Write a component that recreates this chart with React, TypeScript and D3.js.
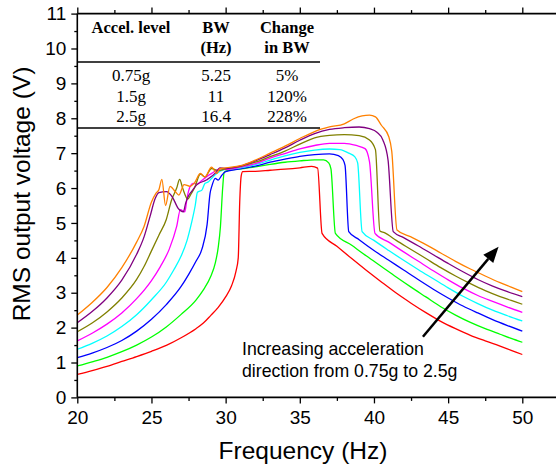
import React, { useEffect, useRef } from 'react';
import * as d3 from 'd3';

// frequency (Hz), RMS voltage (V), one array per acceleration level
const acc075 = [[20,0.66],[21,0.77],[22,0.89],[23,1.03],[24,1.17],[25,1.32],[26,1.49],[27,1.71],[28,1.97],[28.5,2.13],[29,2.35],[29.5,2.58],[30,2.88],[30.4,3.2],[30.7,3.62],[30.85,4.0],[30.95,5.6],[31.05,6.35],[31.15,6.47],[32,6.48],[33,6.51],[34,6.54],[35,6.58],[35.8,6.62],[36.2,6.57],[36.5,4.70],[37.5,4.33],[38.5,3.98],[39.5,3.64],[40.5,3.31],[41.5,2.99],[42.5,2.70],[43.5,2.43],[44.5,2.18],[45.5,1.97],[46.5,1.78],[47.5,1.62],[48.5,1.47],[49.25,1.35],[50,1.23]];
const acc100 = [[20,0.90],[21,1.02],[22,1.15],[23,1.31],[24,1.50],[25,1.73],[26,2.02],[27,2.38],[28,2.79],[28.5,3.08],[29,3.47],[29.3,3.85],[29.5,4.3],[29.65,4.9],[29.8,6.0],[29.9,6.45],[30.1,6.5],[31,6.55],[32,6.61],[33,6.68],[34,6.74],[35,6.78],[36,6.81],[36.6,6.81],[36.95,6.72],[37.1,6.55],[37.4,4.70],[38.5,4.36],[39.5,4.05],[40.5,3.75],[41.5,3.45],[42.5,3.16],[43.5,2.88],[44.5,2.60],[45.5,2.36],[46.5,2.15],[47.5,1.97],[48.5,1.81],[49.25,1.69],[50,1.58]];
const acc125 = [[20,1.14],[21,1.27],[22,1.43],[23,1.63],[24,1.90],[25,2.24],[26,2.66],[27,3.18],[27.5,3.52],[28,3.9],[28.4,4.25],[28.75,4.95],[28.95,5.85],[29.06,6.04],[29.3,6.28],[29.5,6.23],[29.75,6.37],[30,6.47],[31,6.55],[32,6.63],[33,6.74],[34,6.83],[35,6.91],[36,6.96],[37,6.98],[37.6,6.93],[37.9,6.82],[38.05,6.65],[38.3,4.75],[39,4.52],[40,4.21],[41,3.93],[42,3.65],[43,3.37],[44,3.10],[45,2.85],[46,2.62],[47,2.42],[48,2.23],[49,2.06],[50,1.90]];
const acc150 = [[20,1.38],[21,1.55],[22,1.76],[23,2.03],[24,2.37],[25,2.8],[26,3.3],[26.5,3.65],[27,4.05],[27.4,4.5],[27.7,5.0],[27.95,5.5],[28.1,5.88],[28.4,5.94],[28.6,6.13],[28.85,6.18],[29.06,6.28],[29.4,6.42],[29.85,6.52],[31,6.58],[32,6.67],[33,6.8],[34,6.92],[35,7.02],[36,7.09],[37,7.12],[37.7,7.1],[38.3,7.0],[38.7,6.9],[38.9,6.72],[39.2,4.75],[40,4.50],[41,4.21],[42,3.93],[43,3.66],[44,3.40],[45,3.14],[46,2.90],[47,2.69],[48,2.50],[49,2.34],[50,2.19]];
const acc175 = [[20,1.62],[21,1.84],[22,2.1],[23,2.42],[24,2.83],[25,3.35],[25.6,3.75],[26.2,4.25],[26.7,4.9],[26.95,5.38],[27.25,5.32],[27.4,5.72],[27.6,6.04],[27.8,6.13],[28.1,6.12],[28.35,6.2],[28.7,6.32],[29.06,6.42],[29.6,6.55],[30,6.53],[31,6.6],[32,6.7],[33,6.86],[34,6.99],[35,7.12],[36,7.22],[37,7.28],[38,7.28],[38.8,7.22],[39.4,7.13],[39.7,6.75],[40.07,4.70],[41,4.45],[42,4.17],[43,3.90],[44,3.63],[45,3.37],[46,3.13],[47,2.92],[48,2.75],[49,2.59],[50,2.44]];
const acc200 = [[20,1.88],[21,2.13],[22,2.45],[23,2.85],[24,3.38],[24.5,3.75],[25,4.2],[25.5,4.65],[26,5.1],[26.35,5.65],[26.7,6.0],[26.9,6.25],[27.1,6.0],[27.45,5.68],[27.65,5.82],[27.9,6.0],[28.3,6.4],[28.6,6.32],[29.05,6.56],[29.5,6.5],[30,6.55],[31,6.62],[32,6.74],[33,6.9],[34,7.06],[35,7.26],[36,7.44],[37,7.51],[38,7.53],[39,7.5],[39.7,7.38],[40.1,7.1],[40.4,4.77],[40.7,4.72],[41.5,4.50],[42.5,4.24],[43.5,3.98],[44.5,3.72],[45.5,3.48],[46.5,3.26],[47.5,3.06],[48.5,2.89],[49.25,2.78],[50,2.67]];
const acc225 = [[20,2.14],[21,2.46],[22,2.85],[23,3.36],[24,4.1],[24.5,4.6],[24.9,5.18],[25.25,5.7],[25.5,5.87],[26,5.9],[26.4,5.75],[26.8,5.42],[27.15,5.32],[27.3,5.56],[27.5,5.78],[27.7,5.9],[28.05,6.09],[28.7,6.23],[29.4,6.47],[29.6,6.58],[30,6.56],[31,6.63],[32,6.78],[33,6.96],[34,7.15],[35,7.37],[36,7.56],[37,7.68],[38,7.73],[39,7.75],[39.7,7.7],[40.2,7.6],[40.6,7.38],[40.95,6.8],[41.3,4.75],[42,4.58],[43,4.34],[44,4.09],[45,3.84],[46,3.60],[47,3.38],[48,3.19],[49,3.03],[50,2.89]];
const acc250 = [[20,2.36],[21,2.72],[22,3.15],[23,3.72],[24,4.45],[24.5,4.9],[25,5.6],[25.3,5.85],[25.5,5.95],[25.7,6.25],[25.95,5.5],[26.25,6.05],[26.6,5.9],[26.85,5.8],[27.2,6.1],[27.6,6.05],[27.9,6.15],[28.3,6.42],[28.6,6.32],[29.05,6.6],[29.4,6.42],[29.6,6.55],[30,6.58],[31,6.64],[32,6.8],[33,7.0],[34,7.2],[35,7.42],[36,7.62],[37,7.75],[38,7.84],[38.6,7.98],[39.2,8.07],[39.7,8.09],[40.1,8.04],[40.5,7.8],[41,7.47],[41.2,7.05],[41.55,4.80],[42.5,4.60],[43.5,4.38],[44.5,4.14],[45.5,3.90],[46.5,3.68],[47.5,3.48],[48.5,3.29],[49.25,3.16],[50,3.03]];

const seriesList = [acc075, acc100, acc125, acc150, acc175, acc200, acc225, acc250];
const seriesColors = ['#ff0000', '#00ff00', '#0000ff', '#00ffff', '#ff00ff', '#808000', '#800080', '#ff8000'];

const xTicks = [20, 25, 30, 35, 40, 45, 50];
const xMinor = [22.5, 27.5, 32.5, 37.5, 42.5, 47.5];
const yTicks = [0, 1, 2, 3, 4, 5, 6, 7, 8, 9, 10, 11];
const yMinor = [0.5, 1.5, 2.5, 3.5, 4.5, 5.5, 6.5, 7.5, 8.5, 9.5, 10.5];

const tableHead = [['Accel. level', ''], ['BW', '(Hz)'], ['Change', 'in BW']];
const tableRows = [['0.75g', '5.25', '5%'], ['1.5g', '11', '120%'], ['2.5g', '16.4', '228%']];

// arrow from / to, in axis units
const arrowFrom = [43.3, 1.74];
const arrowTo = [48.4, 4.32];

const W = 556, H = 466;
const sans = 'Arial, "Liberation Sans", sans-serif';
const serif = '"Times New Roman", "Liberation Serif", serif';

const App = () => {
  const ref = useRef(null);

  const x = d3.scaleLinear().domain([20, 50]).range([77.3, 522.3]);
  const y = d3.scaleLinear().domain([0, 11]).range([397.4, 13.6]);

  useEffect(() => {
    const svg = d3.select(ref.current);
    const g = svg.append('g').attr('class', 'axes');

    // bottom
    const xb = g.append('g').attr('transform', `translate(0,${y(0)})`)
      .call(d3.axisBottom(x).tickValues(xTicks).tickSize(6).tickPadding(7).tickSizeOuter(0));
    xb.append('g').call(d3.axisBottom(x).tickValues(xMinor).tickSize(3.5).tickFormat(() => '').tickSizeOuter(0));
    // top
    const xt = g.append('g').attr('transform', `translate(0,${y(11)})`)
      .call(d3.axisTop(x).tickValues(xTicks).tickSize(6).tickFormat(() => '').tickSizeOuter(0));
    xt.append('g').call(d3.axisTop(x).tickValues(xMinor).tickSize(3.5).tickFormat(() => '').tickSizeOuter(0));
    // left
    const yl = g.append('g').attr('transform', `translate(${x(20)},0)`)
      .call(d3.axisLeft(y).tickValues(yTicks).tickSize(6).tickPadding(5).tickSizeOuter(0));
    yl.append('g').call(d3.axisLeft(y).tickValues(yMinor).tickSize(3).tickFormat(() => '').tickSizeOuter(0));

    g.selectAll('.domain').remove();
    g.selectAll('line').attr('stroke', '#000').attr('stroke-width', 1.3);
    g.selectAll('text').attr('fill', '#000').style('font-family', sans).style('font-size', '19px');

    // frame lines running off the right edge
    g.append('line').attr('x1', x(20)).attr('x2', W).attr('y1', y(0)).attr('y2', y(0))
      .attr('stroke', '#000').attr('stroke-width', 1.6);
    g.append('line').attr('x1', x(20)).attr('x2', W).attr('y1', y(11)).attr('y2', y(11))
      .attr('stroke', '#000').attr('stroke-width', 1.6);
    g.append('line').attr('x1', x(20)).attr('x2', x(20)).attr('y1', y(0)).attr('y2', y(11))
      .attr('stroke', '#000').attr('stroke-width', 1.6);

    return () => {
      g.remove();
    };
  }, []);

  const line = d3.line()
    .x(d => x(d[0]))
    .y(d => y(d[1]))
    .curve(d3.curveMonotoneX);

  const colX = [131, 216, 287];
  const ax1 = x(arrowFrom[0]), ay1 = y(arrowFrom[1]);
  const ax2 = x(arrowTo[0]), ay2 = y(arrowTo[1]);
  const ang = Math.atan2(ay2 - ay1, ax2 - ax1);
  const headLen = 16, headW = 6.5;
  const bx = ax2 - headLen * Math.cos(ang), by = ay2 - headLen * Math.sin(ang);
  const head = [
    [ax2, ay2],
    [bx + headW * Math.sin(ang), by - headW * Math.cos(ang)],
    [bx - headW * Math.sin(ang), by + headW * Math.cos(ang)]
  ];

  return (
    <svg ref={ref} width={W} height={H} style={{ position: 'absolute', left: 0, top: 0, background: '#fff' }}>
      <rect width={W} height={H} fill="#fff" />
      {seriesList.map((s, i) => (
        <path key={i} d={line(s)} fill="none" stroke={seriesColors[i]} strokeWidth={1.3} />
      ))}

      {/* table */}
      <g fontFamily={serif} fill="#000">
        {tableHead.map((h, i) => (
          <g key={i} fontWeight="bold" fontSize={16.5} textAnchor="middle">
            <text x={colX[i]} y={33}>{h[0]}</text>
            <text x={colX[i]} y={53}>{h[1]}</text>
          </g>
        ))}
        <line x1={x(20)} x2={320} y1={62} y2={62} stroke="#000" strokeWidth={1.6} />
        {tableRows.map((r, j) => (
          <g key={j} fontSize={17} textAnchor="middle">
            {r.map((c, i) => (
              <text key={i} x={colX[i]} y={81 + j * 20.7}>{c}</text>
            ))}
          </g>
        ))}
        <line x1={x(20)} x2={320} y1={128} y2={128} stroke="#000" strokeWidth={1.6} />
      </g>

      {/* arrow + note */}
      <line x1={ax1} y1={ay1} x2={bx} y2={by} stroke="#000" strokeWidth={2.5} />
      <polygon points={head.map(p => p.join(',')).join(' ')} fill="#000" />
      <g fontFamily={sans} fontSize={17.7} fill="#000">
        <text x={242} y={355}>Increasing acceleration</text>
        <text x={242} y={377}>direction from 0.75g to 2.5g</text>
      </g>

      {/* axis titles */}
      <text x={303} y={459} textAnchor="middle" fontFamily={sans} fontSize={24.5} fill="#000">Frequency (Hz)</text>
      <text transform="translate(30,194) rotate(-90)" textAnchor="middle" fontFamily={sans} fontSize={24.5} fill="#000">RMS output voltage (V)</text>
    </svg>
  );
};

export default App;
